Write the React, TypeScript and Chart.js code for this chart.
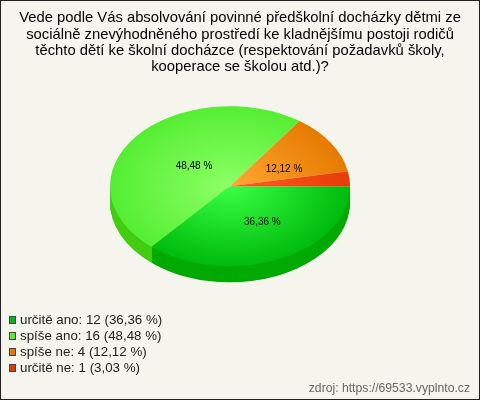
import React, { useEffect, useRef } from "react";
import { Chart, registerables } from "chart.js";

Chart.register(...registerables);

const titleLines = [
  "Vede podle Vás absolvování povinné předškolní docházky dětmi ze",
  "sociálně znevýhodněného prostředí ke kladnějšímu postoji rodičů",
  "těchto dětí ke školní docházce (respektování požadavků školy,",
  "kooperace se školou atd.)?",
];
const categories = ["určitě ano", "spíše ano", "spíše ne", "určitě ne"];
const counts = [12, 16, 4, 1];
const percents = ["36,36", "48,48", "12,12", "3,03"];
const credit = "zdroj: https://69533.vyplnto.cz";

const innerColors = ["#38ff44", "#8cff66", "#ffa833", "#ff6020"];
const outerColors = ["#00bb0c", "#55ee33", "#e67a00", "#e63c08"];
const wallColors = ["#00aa00", "#44cc11", "#cc6600", "#cc3300"];
const swatchColors = ["#00bb11", "#55ee33", "#e67a00", "#e03c00"];

// label placement as a share of the radius, per slice (null = no label)
const labelShares: ([number, number] | null)[] = [[0.27, 0.3], [-0.3, -0.167], [0.45, -0.14], null];

const FLATTEN = 2 / 3;
const DEPTH = 16;
const SHIFT_X = -10;
const FONT = "'Liberation Sans', Arial, sans-serif";

function swatch(color: string) {
  const c = document.createElement("canvas");
  c.width = 11;
  c.height = 8;
  const g = c.getContext("2d")!;
  g.fillStyle = color;
  g.fillRect(4, 0, 8, 8);
  g.strokeStyle = "#444";
  g.lineWidth = 1;
  g.strokeRect(4.5, 0.5, 6, 7);
  return c;
}

const pie3d = {
  id: "pie3d",
  beforeDraw(chart: any) {
    const { ctx, width, height } = chart;
    ctx.save();
    ctx.fillStyle = "#f5f5ed";
    ctx.fillRect(0, 0, width, height);
    ctx.strokeStyle = "#222";
    ctx.lineWidth = 1;
    ctx.strokeRect(0.5, 0.5, width - 1, height - 1);
    ctx.restore();
  },
  afterLayout(chart: any) {
    const legend = chart.legend;
    legend.left = 5;
    legend.top = 310.665;
    legend.right = 300;
    legend.bottom = 400;
    chart.boxes.forEach((b: any) => {
      if (b !== legend && b.options && b.options.position === "bottom") b.right = chart.width - 10;
    });
  },
  beforeDatasetsDraw(chart: any) {
    const { ctx } = chart;
    const arcs = chart.getDatasetMeta(0).data;
    ctx.save();
    for (let d = DEPTH; d >= 1; d--) {
      arcs.forEach((a: any, i: number) => {
        const s = Math.max(a.startAngle, 0);
        const e = Math.min(a.endAngle, Math.PI);
        if (e <= s) return;
        const cx = a.x + SHIFT_X;
        const cy = a.y + d;
        ctx.fillStyle = wallColors[i];
        ctx.beginPath();
        ctx.moveTo(cx, cy);
        ctx.ellipse(cx, cy, a.outerRadius, a.outerRadius * FLATTEN, 0, s, e);
        ctx.closePath();
        ctx.fill();
      });
    }
    ctx.restore();
    const a0 = arcs[0];
    ctx.save();
    ctx.translate(SHIFT_X, a0.y);
    ctx.scale(1, FLATTEN);
    ctx.translate(0, -a0.y);
  },
  afterDatasetsDraw(chart: any) {
    const { ctx } = chart;
    ctx.restore();
    const arcs = chart.getDatasetMeta(0).data;
    ctx.save();
    ctx.font = `10px ${FONT}`;
    ctx.fillStyle = "#000";
    ctx.textAlign = "center";
    ctx.textBaseline = "middle";
    arcs.forEach((a: any, i: number) => {
      const share = labelShares[i];
      if (!share) return;
      const r = a.outerRadius;
      ctx.fillText(`${percents[i]} %`, a.x + SHIFT_X + share[0] * r, a.y + share[1] * r);
    });
    ctx.restore();
  },
};

export default function App() {
  const ref = useRef<HTMLCanvasElement>(null);
  useEffect(() => {
    const chart = new Chart(ref.current!, {
      type: "pie",
      data: {
        labels: categories,
        datasets: [
          {
            data: counts,
            borderWidth: 0,
            radius: 120,
            clip: false,
            backgroundColor: (c: any) => {
              const area = c.chart.chartArea;
              if (!area) return outerColors[c.dataIndex];
              const x = (area.left + area.right) / 2;
              const y = (area.top + area.bottom) / 2;
              const g = c.chart.ctx.createRadialGradient(x, y, 0, x, y, 120);
              g.addColorStop(0, innerColors[c.dataIndex]);
              g.addColorStop(1, outerColors[c.dataIndex]);
              return g;
            },
          } as any,
        ],
      },
      options: {
        responsive: false,
        animation: false,
        rotation: 90,
        layout: { padding: 0 },
        plugins: {
          tooltip: { enabled: false },
          title: {
            display: true,
            text: titleLines,
            color: "#000",
            font: { family: FONT, size: 14.8, weight: "normal", lineHeight: 16.3 / 14.8 },
            padding: { top: 10, bottom: 5 },
          },
          subtitle: {
            display: true,
            position: "bottom",
            align: "end",
            text: credit,
            color: "#666",
            font: { family: FONT, size: 12.2, weight: "normal" },
            padding: { top: 89, bottom: 4 } as any,
          },
          legend: {
            display: true,
            position: "chartArea",
            align: "start",
            labels: {
              usePointStyle: true,
              boxWidth: 5.66,
              padding: 2.67,
              color: "#222",
              font: { family: FONT, size: 13.33 },
              generateLabels: () =>
                categories.map((cat, i) => ({
                  text: `${cat}: ${counts[i]} (${percents[i]} %)`,
                  fontColor: "#222",
                  pointStyle: swatch(swatchColors[i]),
                  hidden: false,
                  index: i,
                  lineWidth: 0,
                })),
            },
          },
        } as any,
      },
      plugins: [pie3d],
    });
    return () => chart.destroy();
  }, []);
  return (
    <div style={{ position: "absolute", left: 0, top: 0, width: 480, height: 400 }}>
      <canvas ref={ref} width={480} height={400} style={{ display: "block" }} />
    </div>
  );
}
